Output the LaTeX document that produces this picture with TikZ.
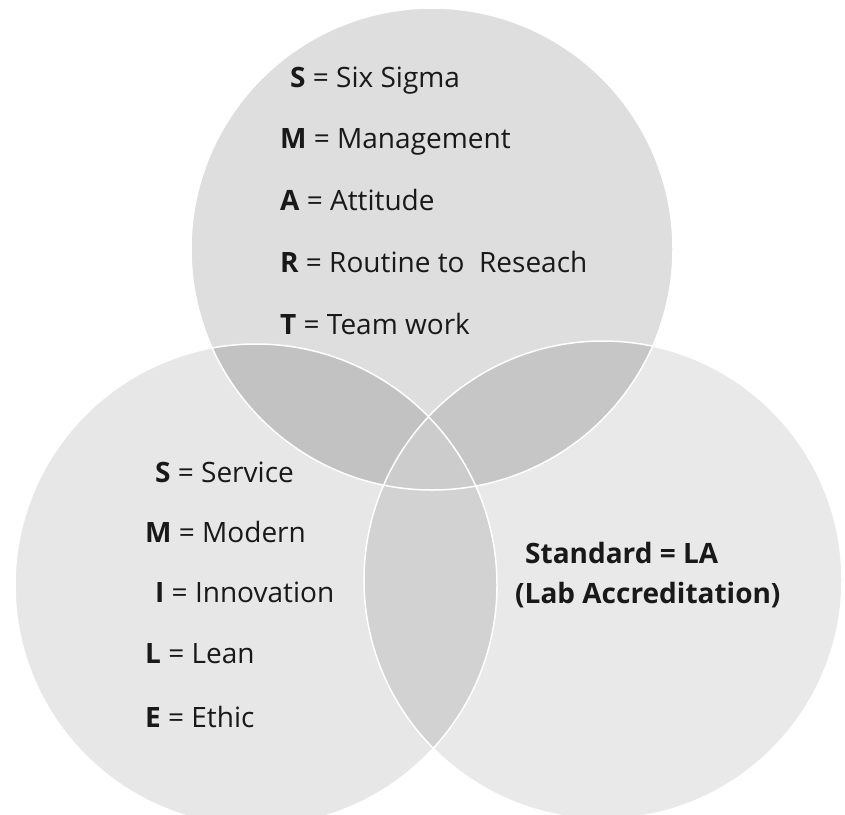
\documentclass[tikz,border=0pt]{standalone}
\usepackage{fontspec}
\setmainfont{Open Sans}
\definecolor{cTop}{RGB}{222,222,222}
\definecolor{cLeft}{RGB}{231,231,231}
\definecolor{cRight}{RGB}{233,233,233}
\definecolor{cTL}{RGB}{194,194,194}
\definecolor{cTR}{RGB}{198,198,198}
\definecolor{cLR}{RGB}{210,210,210}
\definecolor{cTLR}{RGB}{204,204,204}
\definecolor{ink}{RGB}{25,25,25}
\begin{document}
\begin{tikzpicture}[x=1pt,y=-1pt,
  lbl/.style={anchor=base west, inner sep=0pt, font=\fontsize{28}{34}\selectfont, text=ink},
  blbl/.style={lbl, font=\fontsize{28}{34}\selectfont\bfseries},
  ring/.style={draw=white, line width=1.5pt}]
\useasboundingbox (0,0) rectangle (845,814);
\coordinate (ct) at (432,249);
\coordinate (cl) at (256,585);
\coordinate (cr) at (603,580);
% single circles
\fill[cLeft] (cl) circle[radius=241pt];
\fill[cRight] (cr) circle[radius=239pt];
\fill[cTop] (ct) circle[radius=241pt];
% pairwise overlaps
\begin{scope}
  \clip (cl) circle[radius=241pt];
  \fill[cLR] (cr) circle[radius=239pt];
\end{scope}
\begin{scope}
  \clip (ct) circle[radius=241pt];
  \fill[cTL] (cl) circle[radius=241pt];
\end{scope}
\begin{scope}
  \clip (ct) circle[radius=241pt];
  \fill[cTR] (cr) circle[radius=239pt];
\end{scope}
\begin{scope}
  \clip (ct) circle[radius=241pt];
  \clip (cl) circle[radius=241pt];
  \fill[cTLR] (cr) circle[radius=239pt];
\end{scope}
% thin light outlines
\draw[ring] (cl) circle[radius=241pt];
\draw[ring] (cr) circle[radius=239pt];
\draw[ring] (ct) circle[radius=241pt];
% top circle text
\node[lbl] (t1) at (290,87)  {{\bfseries S} = Six Sigma};
\node[lbl] (t2) at (280,148) {{\bfseries M} = Management};
\node[lbl] (t3) at (280,210) {{\bfseries A} = Attitude};
\node[lbl] (t4) at (280,272) {{\bfseries R} = Routine to\ \ Reseach};
\node[lbl] (t5) at (280,334) {{\bfseries T} = Team work};
% left circle text
\node[lbl] (l1) at (155,482) {{\bfseries S} = Service};
\node[lbl] (l2) at (145,542) {{\bfseries M} = Modern};
\node[lbl] (l3) at (155,602) {{\bfseries I} = Innovation};
\node[lbl] (l4) at (145,663) {{\bfseries L} = Lean};
\node[lbl] (l5) at (145,727) {{\bfseries E} = Ethic};
% right circle text
\node[blbl] (r1) at (525,563) {Standard = LA};
\node[blbl] (r2) at (515,603) {(Lab Accreditation)};
\end{tikzpicture}
\end{document}
